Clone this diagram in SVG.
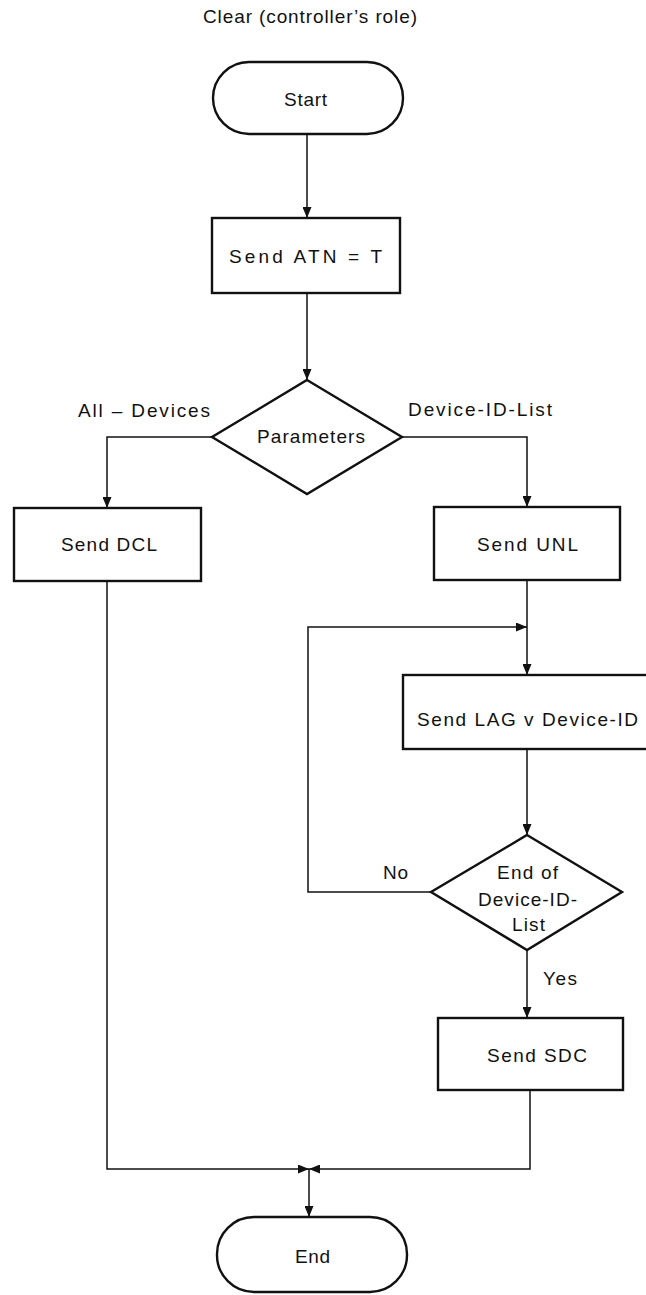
<svg xmlns="http://www.w3.org/2000/svg" width="646" height="1295" viewBox="0 0 646 1295">
<style>
.shape{fill:#fff;stroke:#111;stroke-width:2.4}
.line{fill:none;stroke:#111;stroke-width:1.5}
text{font-family:"Liberation Sans",Arial,sans-serif;font-size:19px;fill:#111}
</style>
<defs>
<marker id="arr" markerUnits="userSpaceOnUse" markerWidth="11" markerHeight="9" refX="11" refY="4.5" orient="auto">
<path d="M0,0 L11,4.5 L0,9 z" fill="#111"/>
</marker>
</defs>
<rect width="646" height="1295" fill="#fff"/>
<text x="203" y="23" textLength="214" lengthAdjust="spacing">Clear (controller’s role)</text>

<g id="connectors">
<path class="line" d="M307,134 V218" marker-end="url(#arr)"/>
<path class="line" d="M307,293 V380" marker-end="url(#arr)"/>
<path class="line" d="M212,437 H107 V508" marker-end="url(#arr)"/>
<path class="line" d="M402,437 H527 V507" marker-end="url(#arr)"/>
<path class="line" d="M527,580 V675" marker-end="url(#arr)"/>
<path class="line" d="M527,749 V835" marker-end="url(#arr)"/>
<path class="line" d="M431,892 H308 V627 H527" marker-end="url(#arr)"/>
<path class="line" d="M527,950 V1018" marker-end="url(#arr)"/>
<path class="line" d="M530,1090 V1169 H309" marker-end="url(#arr)"/>
<path class="line" d="M107,581 V1169 H309" marker-end="url(#arr)"/>
<path class="line" d="M309,1169 V1217" marker-end="url(#arr)"/>
</g>

<g id="start">
<rect class="shape" x="213" y="62" width="190" height="72" rx="36" ry="36"/>
<text x="284" y="106" textLength="43" lengthAdjust="spacing">Start</text>
</g>
<g id="send-atn">
<rect class="shape" x="212" y="218" width="188" height="75"/>
<text x="229" y="263" textLength="153" lengthAdjust="spacing">Send ATN = T</text>
</g>
<g id="parameters">
<polygon class="shape" points="307,380 402,437 307,494 212,437"/>
<text x="257" y="443" textLength="108" lengthAdjust="spacing">Parameters</text>
</g>
<g id="label-all">
<text x="78" y="417" textLength="132" lengthAdjust="spacing">All – Devices</text>
</g>
<g id="label-list">
<text x="408" y="416" textLength="144" lengthAdjust="spacing">Device-ID-List</text>
</g>
<g id="send-dcl">
<rect class="shape" x="14" y="508" width="187" height="73"/>
<text x="61" y="551" textLength="96" lengthAdjust="spacing">Send DCL</text>
</g>
<g id="send-unl">
<rect class="shape" x="434" y="507" width="186" height="73"/>
<text x="477" y="551" textLength="101" lengthAdjust="spacing">Send UNL</text>
</g>
<g id="send-lag">
<rect class="shape" x="403" y="675" width="260" height="74"/>
<text x="417" y="726" textLength="221" lengthAdjust="spacing">Send LAG v Device-ID</text>
</g>
<g id="end-of-list">
<polygon class="shape" points="527,835 622,892 527,950 431,892"/>
<text x="497" y="879" textLength="61" lengthAdjust="spacing">End of</text>
<text x="478" y="906" textLength="99" lengthAdjust="spacing">Device-ID-</text>
<text x="512" y="931" textLength="33" lengthAdjust="spacing">List</text>
</g>
<g id="label-no">
<text x="383" y="879" textLength="25" lengthAdjust="spacing">No</text>
</g>
<g id="label-yes">
<text x="543" y="985" textLength="34" lengthAdjust="spacing">Yes</text>
</g>
<g id="send-sdc">
<rect class="shape" x="438" y="1018" width="185" height="72"/>
<text x="487" y="1062" textLength="100" lengthAdjust="spacing">Send SDC</text>
</g>
<g id="end">
<rect class="shape" x="217" y="1217" width="190" height="75" rx="37" ry="37"/>
<text x="295" y="1263" textLength="35" lengthAdjust="spacing">End</text>
</g>
</svg>
